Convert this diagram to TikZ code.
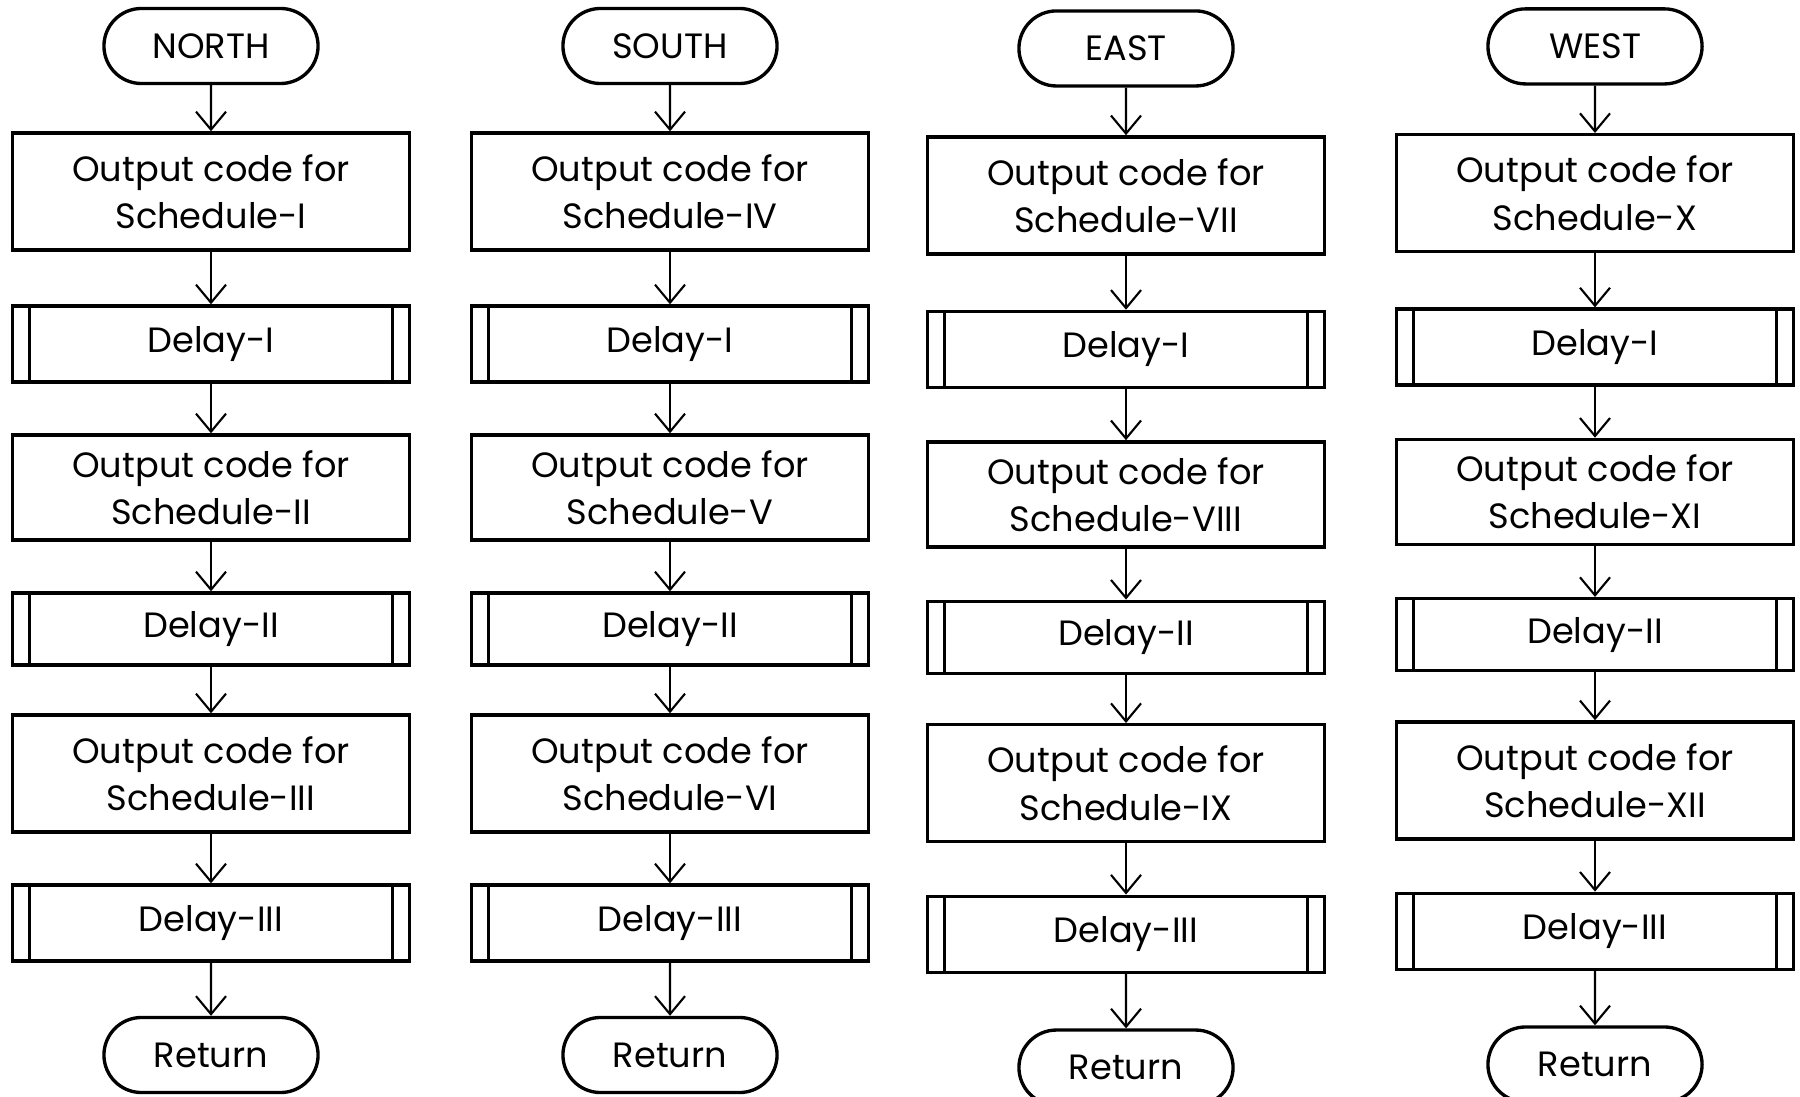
\documentclass[tikz,border=0pt]{standalone}
\usepackage{fontspec}
\setmainfont{Poppins}
\usepackage{tikz}
\usetikzlibrary{shapes.misc, arrows.meta}

\tikzset{
  >={Straight Barb[length=1.8mm, width=3mm]},
  every node/.style={font=\fontsize{10}{13.4}\selectfont},
  term/.style={draw, line width=0.95pt, rounded rectangle, minimum width=2.14cm, minimum height=0.75cm, inner sep=0pt},
  box/.style={draw, line width=0.95pt, rectangle, minimum width=3.97cm, minimum height=1.17cm, inner sep=0pt, align=center},
  delaybox/.style={box, minimum height=0.76cm,
    path picture={
      \draw[line width=0.95pt] ([xshift=0.17cm]path picture bounding box.north west) -- ([xshift=0.17cm]path picture bounding box.south west)
        ([xshift=-0.17cm]path picture bounding box.north east) -- ([xshift=-0.17cm]path picture bounding box.south east);}},
}

\begin{document}
\begin{tikzpicture}[x=0.01cm, y=-0.01cm]
  \useasboundingbox (0,0) rectangle (1800,1097);
  % one column per direction
  \foreach \x/\dy/\k/\head/\nA/\nB/\nC/\id in {211/0/1/NORTH/I/II/III/n, 670/0/1/SOUTH/IV/V/VI/s,
      1126/2/1.01/EAST/VII/VIII/IX/e, 1595/0/1.009/WEST/X/XI/XII/w}{
    \begin{scope}[shift={(\x,\dy)}, yscale=\k]
      \node[term] (\id0) at (0, 46) {\head};
      \node[box] (\id1) at (0, 191.5) {Output code for\\Schedule-\nA};
      \node[delaybox] (\id2) at (0, 344) {Delay-I};
      \node[box, minimum height=1.05cm] (\id3) at (0, 487.5) {Output code for\\Schedule-\nB};
      \node[delaybox, minimum height=0.72cm] (\id4) at (0, 629) {Delay-II};
      \node[box] (\id5) at (0, 773.5) {Output code for\\Schedule-\nC};
      \node[delaybox] (\id6) at (0, 923) {Delay-III};
      \node[term] (\id7) at (0, 1055) {Return};
    \end{scope}
    \foreach \i [evaluate=\i as \j using int(\i+1)] in {0,...,6}
      \draw[->, semithick] (\id\i) -- (\id\j);
  }
\end{tikzpicture}
\end{document}
